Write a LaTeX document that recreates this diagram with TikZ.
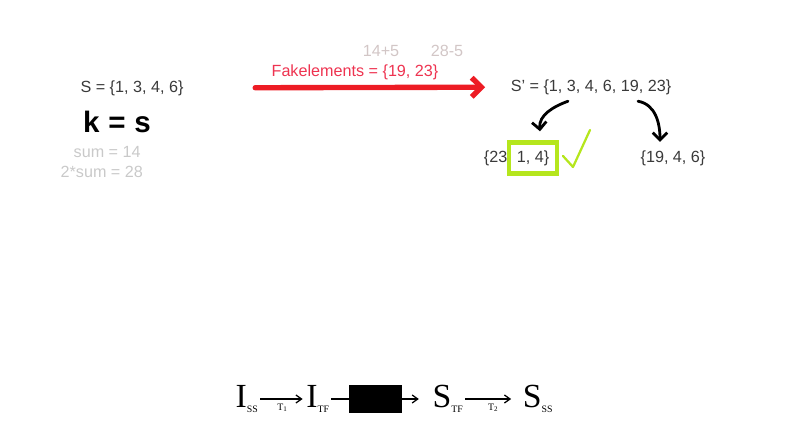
\documentclass[tikz,border=0pt]{standalone}
\usepackage{fontspec}
\setmainfont{Liberation Sans}
\newfontfamily\handfont{Liberation Serif}
\usetikzlibrary{arrows.meta,positioning,calc}
\definecolor{inktext}{HTML}{3A3A3A}
\definecolor{inkred}{HTML}{ED1C24}
\definecolor{fakered}{HTML}{EE3350}
\definecolor{faintgray}{HTML}{C9C9C9}
\definecolor{faintpink}{HTML}{D2C6C6}
\definecolor{limegreen}{HTML}{B5E61D}
\tikzset{
  settext/.style={font=\fontsize{11.5}{13}\selectfont,text=inktext,inner sep=1pt},
  notetext/.style={font=\fontsize{11.5}{13}\selectfont,text=faintgray,inner sep=1pt},
  handtext/.style={font=\handfont\fontsize{24}{26}\selectfont,inner sep=1pt},
  sublabel/.style={font=\handfont\fontsize{7}{8}\selectfont,inner sep=1pt},
  redarrow/.style={-{Straight Barb[length=2.4mm,width=4.8mm]},line width=3.8pt,inkred,line cap=round},
  penarrow/.style={-{Straight Barb[length=1.8mm,width=3.6mm]},line width=2pt,black,line cap=round},
  thinarrow/.style={-{Straight Barb[length=1.4mm,width=2mm]},line width=0.9pt,black}
}

\begin{document}
\begin{tikzpicture}[x=0.025cm,y=-0.025cm]
  \useasboundingbox (0,0) rectangle (800,444);

  % left side
  \node[settext] (setS) at (132,88) {S = \{1, 3, 4, 6\}};
  \node[font=\fontsize{21}{24}\selectfont\bfseries,inner sep=1pt] (kval) at (117,122) {k\hspace{0.3em}=\hspace{0.3em}s};
  \node[notetext,anchor=west] (sumA) at (72,152) {sum = 14};
  \node[notetext,anchor=west] (sumB) at (59,172) {2*sum = 28};

  % fake elements
  \node[notetext,text=faintpink] (plusA) at (381,51) {14+5};
  \node[notetext,text=faintpink] (minusA) at (447,51) {28-5};
  \node[settext,text=fakered] (fake) at (355,72) {Fakelements = \{19, 23\}};
  \node[settext] (setSp) at (591,87) {S' = \{1, 3, 4, 6, 19, 23\}};

  \draw[redarrow,shorten <=1.75cm,shorten >=0.6cm] (setS) -- (setSp);

  % split
  \node[settext,anchor=east] (left23) at (509,158) {\{23};
  \node[settext,draw=limegreen,line width=3pt,minimum width=1.2cm,minimum height=0.78cm] (boxed) at (533,158) {1, 4\}};
  \node[settext] (rightset) at (673,158) {\{19, 4, 6\}};

  \draw[penarrow] ($(setSp.south)+(-23,5)$) to[out=200,in=95] ($(boxed.north)+(7,-9)$);
  \draw[penarrow] ($(setSp.south)+(47,5)$) to[out=-10,in=90] ($(rightset.north)+(-13,-7)$);
  \draw[limegreen,line width=1.6pt,line cap=round,line join=round] (563,156) -- (573,167) -- (590,130);

  % bottom chain
  \node[handtext] (issI) at (247,399) {I\textsubscript{\fontsize{7}{8}\selectfont SS}};
  \node[handtext] (itf) at (318,399) {I\textsubscript{\fontsize{7}{8}\selectfont TF}};
  \node[fill=black,minimum width=1.32cm,minimum height=0.72cm,inner sep=0pt] (blackbox) at (375.5,399) {};
  \node[handtext] (stf) at (448,399) {S\textsubscript{\fontsize{7}{8}\selectfont TF}};
  \node[handtext] (sss) at (538,399) {S\textsubscript{\fontsize{7}{8}\selectfont SS}};

  \draw[thinarrow,shorten >=0.05cm] (issI) -- node[sublabel,below=2pt] {T\textsubscript{1}} (itf);
  \draw[line width=0.9pt] (itf) -- (blackbox);
  \draw[thinarrow,shorten >=0.3cm] (blackbox) -- (stf);
  \draw[thinarrow,shorten >=0.25cm] (stf) -- node[sublabel,below=2pt] {T\textsubscript{2}} (sss);
\end{tikzpicture}
\end{document}
